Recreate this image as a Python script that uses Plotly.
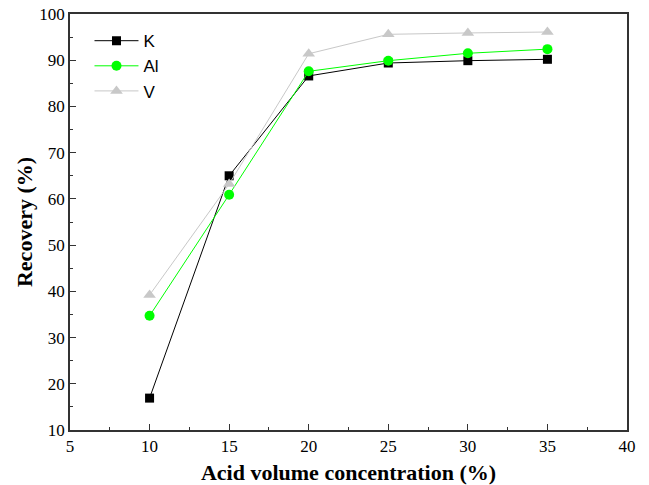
import plotly.graph_objects as go

conc = [10, 15, 20, 25, 30, 35]
K = [16.9, 65.0, 86.6, 89.4, 89.9, 90.2]
Al = [34.7, 60.9, 87.6, 89.9, 91.5, 92.4]
V = [39.2, 63.2, 91.4, 95.6, 95.9, 96.1]

fig = go.Figure()
fig.add_trace(go.Scatter(x=conc, y=K, name="K", mode="lines+markers",
                         line=dict(color="black", width=1),
                         marker=dict(symbol="square", size=9, color="black")))
fig.add_trace(go.Scatter(x=conc, y=Al, name="Al", mode="lines+markers",
                         line=dict(color="#00ff00", width=1),
                         marker=dict(symbol="circle", size=10, color="#00ff00")))
fig.add_trace(go.Scatter(x=conc, y=V, name="V", mode="lines+markers",
                         line=dict(color="#c8c8c8", width=1),
                         marker=dict(symbol="triangle-up", size=11, color="#c8c8c8")))

axis_common = dict(showline=True, linecolor="#333", linewidth=1.5, mirror=True,
                   ticks="inside", ticklen=6, tickcolor="#333", showgrid=False,
                   zeroline=False, automargin=False,
                   tickfont=dict(family="Liberation Serif", size=17, color="black"))
fig.update_xaxes(range=[5, 40], dtick=5,
                 minor=dict(ticks="inside", ticklen=3, dtick=2.5, tickcolor="#333"),
                 title=dict(text="<b>Acid volume concentration (%)</b>",
                            font=dict(family="Liberation Serif", size=22, color="black"),
                            standoff=13),
                 **axis_common)
fig.update_yaxes(range=[10, 100], dtick=10,
                 minor=dict(ticks="inside", ticklen=3, dtick=5, tickcolor="#333"),
                 title=dict(text="<b>Recovery (%)</b>",
                            font=dict(family="Liberation Serif", size=22, color="black"),
                            standoff=1),
                 **axis_common)
fig.update_layout(width=649, height=485, margin=dict(l=70, r=22, t=14, b=55),
                  plot_bgcolor="white", paper_bgcolor="white",
                  legend=dict(x=0.035, y=0.978, xanchor="left", yanchor="top",
                              itemwidth=44,
                              font=dict(family="Liberation Sans", size=17, color="black"),
                              bgcolor="rgba(0,0,0,0)", tracegroupgap=0))
fig.write_html("out.html")
